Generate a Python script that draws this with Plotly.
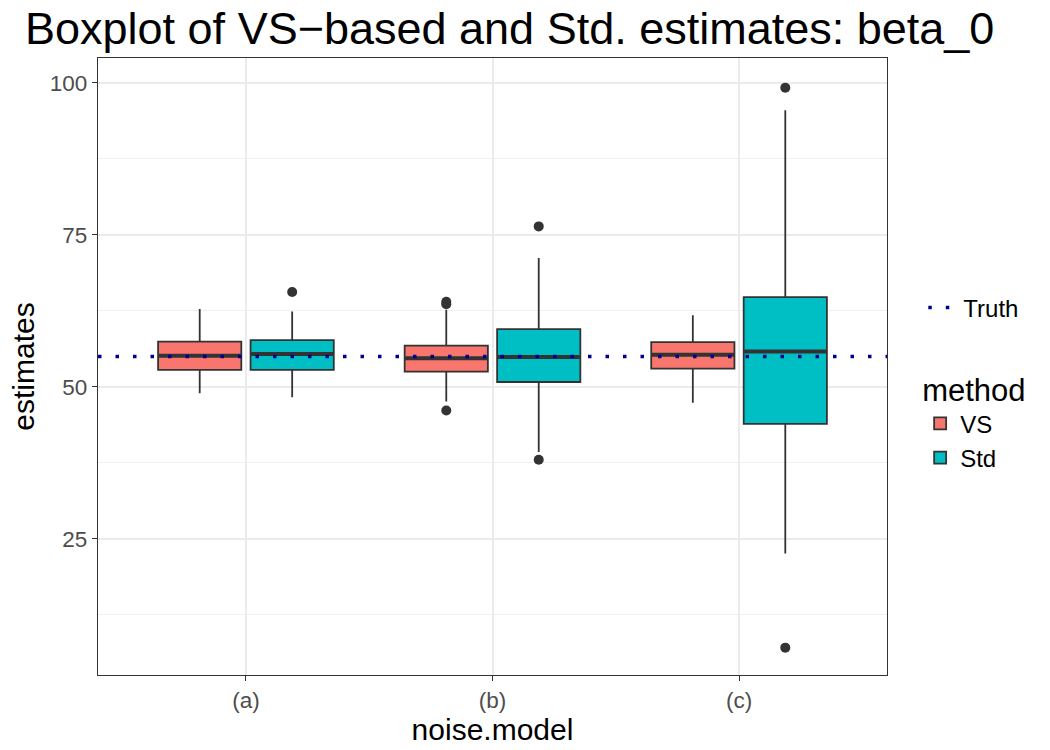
import plotly.graph_objects as go

categories = ["(a)", "(b)", "(c)"]
methods = ["VS", "Std"]
colors = {"VS": "#F8766D", "Std": "#00BFC4"}

# Precomputed box statistics
vs_q1 = [52.8, 52.5, 53.0]
vs_median = [55.1, 54.7, 55.3]
vs_q3 = [57.45, 56.8, 57.35]
vs_lower = [48.96, 47.6, 47.4]
vs_upper = [62.8, 62.7, 61.8]
vs_outliers = [[], [46.1, 63.6, 64.0], []]

std_q1 = [52.8, 50.8, 43.9]
std_median = [55.4, 54.9, 55.8]
std_q3 = [57.7, 59.5, 64.75]
std_lower = [48.3, 39.3, 22.6]
std_upper = [62.4, 71.2, 95.5]
std_outliers = [[65.6], [38.0, 76.4], [7.1, 99.2]]

truth = 55.0

stats = {
    "VS": (vs_q1, vs_median, vs_q3, vs_lower, vs_upper, vs_outliers),
    "Std": (std_q1, std_median, std_q3, std_lower, std_upper, std_outliers),
}

DODGE = 0.75        # ggplot position_dodge width
BOX_W = 0.3375      # width of each box in category units
cat_idx = list(range(len(categories)))

fig = go.Figure()
for k, m in enumerate(methods):
    q1, med, q3, lo, hi, out = stats[m]
    off = (k - (len(methods) - 1) / 2) * DODGE / len(methods)
    pos = [i + off for i in cat_idx]
    fig.add_trace(go.Box(
        name=m, x=pos,
        q1=q1, median=med, q3=q3, lowerfence=lo, upperfence=hi,
        width=BOX_W, boxpoints=False,
        fillcolor=colors[m],
        line=dict(color="#333333", width=1.8),
        whiskerwidth=0,
        legend="legend2",
    ))
    # thicker median bar (ggplot fattens the median line)
    fig.add_trace(go.Scatter(
        x=pos, y=med, mode="markers",
        marker=dict(symbol="line-ew", size=58.5, color="#333333",
                    line=dict(color="#333333", width=4)),
        showlegend=False, hoverinfo="skip",
    ))
    ox = [p for p, vals in zip(pos, out) for _ in vals]
    oy = [v for vals in out for v in vals]
    fig.add_trace(go.Scatter(
        x=ox, y=oy, mode="markers",
        marker=dict(color="#333333", size=10, line=dict(width=0)),
        showlegend=False, hoverinfo="skip",
    ))

fig.add_hline(y=truth, line=dict(color="#00008B", width=3.5, dash="3.5px,14px"),
              showlegend=True, name="Truth", legend="legend", layer="above")

fig.update_layout(
    width=1050, height=750,
    margin=dict(l=98, r=163, t=58, b=75),
    paper_bgcolor="white", plot_bgcolor="white",
    font=dict(family="Liberation Sans, Arial, sans-serif", color="black"),
    title=dict(text="Boxplot of VS\u2212based and Std. estimates: beta_0",
               x=25/1050, xanchor="left", y=1-28/750, yanchor="middle",
               font=dict(size=45, color="black")),
    boxmode="overlay",
    legend=dict(x=1.046, xanchor="left", y=(675-308)/617, yanchor="middle",
                font=dict(size=24), bgcolor="rgba(0,0,0,0)"),
    legend2=dict(x=1.042, xanchor="left", y=(675-361)/617, yanchor="top",
                 title=dict(text="method", font=dict(size=31)),
                 font=dict(size=24), bgcolor="rgba(0,0,0,0)", tracegroupgap=0),
    xaxis=dict(
        range=[-0.6, 2.6],
        tickvals=cat_idx, ticktext=categories,
        showgrid=True, gridcolor="#EBEBEB", gridwidth=1.6,
        showline=True, linecolor="#333333", linewidth=1.3, mirror=True,
        ticks="outside", ticklen=5, tickcolor="#333333", tickwidth=1.2,
        tickfont=dict(size=22.5, color="#4D4D4D"),
        title=dict(text="noise.model", font=dict(size=30), standoff=2),
        zeroline=False,
    ),
    yaxis=dict(
        range=[2.6, 104.1],
        tickvals=[25, 50, 75, 100],
        showgrid=True, gridcolor="#EBEBEB", gridwidth=1.6,
        minor=dict(tickvals=[12.5, 37.5, 62.5, 87.5], showgrid=True,
                   gridcolor="#F0F0F0", gridwidth=0.9, ticks=""),
        showline=True, linecolor="#333333", linewidth=1.3, mirror=True,
        ticks="outside", ticklen=5, tickcolor="#333333", tickwidth=1.2,
        tickfont=dict(size=22.5, color="#4D4D4D"),
        title=dict(text="estimates", font=dict(size=30), standoff=6),
        zeroline=False,
    ),
)

fig.write_html("out.html")
